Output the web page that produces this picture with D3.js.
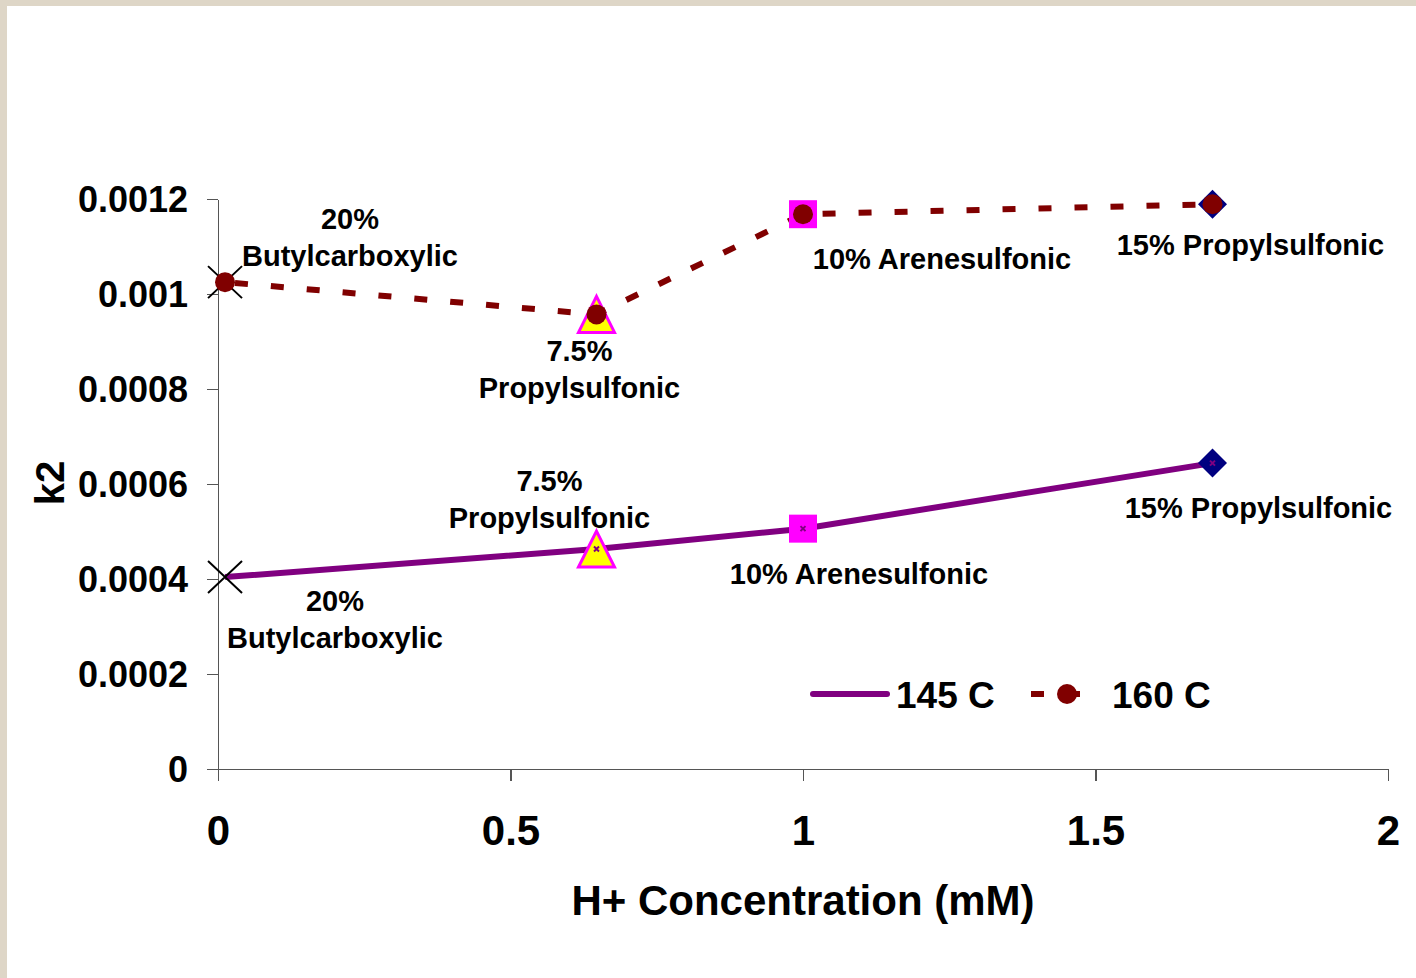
<!DOCTYPE html>
<html>
<head>
<meta charset="utf-8">
<script src="https://cdn.jsdelivr.net/npm/d3@7"></script>
<style>
  body { margin: 0; background: #ded6c7; }
  text { font-family: "Liberation Sans", Arial, sans-serif; font-weight: bold; fill: #000; }
  .axis path, .axis line { stroke: #555; stroke-width: 1.2; shape-rendering: crispEdges; }
</style>
</head>
<body>
<script>
// chart data
var concentration = [0.012, 0.647, 1.0, 1.7];
var k2at145 = [0.000404, 0.000463, 0.000506, 0.000644];
var k2at160 = [0.001025, 0.000957, 0.001168, 0.001189];
var acidLabels = [
    ["20%", "Butylcarboxylic"],
    ["7.5%", "Propylsulfonic"],
    ["10% Arenesulfonic"],
    ["15% Propylsulfonic"]
];
var markerShapes = ["cross", "triangle", "square", "diamond"];
var xTicks = [0, 0.5, 1, 1.5, 2];
var xTickLabels = ["0", "0.5", "1", "1.5", "2"];
var yTicks = [0, 0.0002, 0.0004, 0.0006, 0.0008, 0.001, 0.0012];
var yTickLabels = ["0", "0.0002", "0.0004", "0.0006", "0.0008", "0.001", "0.0012"];
var seriesNames = ["145 C", "160 C"];

window.onload = function () {
    var w = 1416,
        h = 978;

    var svg = d3.select('body')
        .append('svg')
        .attr('width', w)
        .attr('height', h)
        .style('display', 'block');

    // beige frame, white sheet
    svg.append('rect')
        .attr('x', 0).attr('y', 0)
        .attr('width', w).attr('height', h)
        .style('fill', '#ded6c7');
    svg.append('rect')
        .attr('x', 7).attr('y', 6)
        .attr('width', w - 7).attr('height', h - 6)
        .style('fill', '#fff');

    var x = d3.scaleLinear()
        .domain([0, 2])
        .range([218, 1388]);

    var y = d3.scaleLinear()
        .domain([0, 0.0012])
        .range([769, 199]);

    // axes
    var yAxis = d3.axisLeft(y)
        .tickValues(yTicks)
        .tickSize(11)
        .tickSizeOuter(0)
        .tickPadding(19)
        .tickFormat(function (d, i) { return yTickLabels[i]; });

    var gy = svg.append('g')
        .attr('class', 'axis')
        .attr('transform', 'translate(218,0)')
        .call(yAxis);
    gy.selectAll('text')
        .style('font-size', '36px')
        .attr('dy', '0.35em');

    var xAxis = d3.axisBottom(x)
        .tickValues(xTicks)
        .tickSize(12)
        .tickSizeOuter(0)
        .tickFormat(function (d, i) { return xTickLabels[i]; });

    var gx = svg.append('g')
        .attr('class', 'axis')
        .attr('transform', 'translate(0,769)')
        .call(xAxis);
    gx.selectAll('text')
        .style('font-size', '42px')
        .attr('y', 76)
        .attr('dy', null);

    svg.selectAll('.domain').attr('fill', 'none');

    // axis titles
    svg.append('text')
        .attr('text-anchor', 'middle')
        .attr('transform', 'translate(50,483) rotate(-90)')
        .attr('dy', '0.35em')
        .style('font-size', '40px')
        .text('k2');

    svg.append('text')
        .attr('text-anchor', 'middle')
        .attr('x', 803)
        .attr('y', 900)
        .attr('dy', '0.35em')
        .style('font-size', '42px')
        .text('H+ Concentration (mM)');

    // series lines
    var pts145 = concentration.map(function (c, i) { return [c, k2at145[i]]; });
    var pts160 = concentration.map(function (c, i) { return [c, k2at160[i]]; });

    var line = d3.line()
        .x(function (d) { return x(d[0]); })
        .y(function (d) { return y(d[1]); });

    svg.append('path')
        .datum(pts145)
        .attr('d', line)
        .style('fill', 'none')
        .style('stroke', '#800080')
        .style('stroke-width', 6);

    svg.append('path')
        .datum(pts160)
        .attr('d', line)
        .style('fill', 'none')
        .style('stroke', '#800000')
        .style('stroke-width', 6)
        .style('stroke-dasharray', '13,23')
        .style('stroke-dashoffset', '-10');

    // acid markers (shape per acid)
    function drawMarker(g, shape, cx, cy) {
        if (shape === 'cross') {
            g.append('path')
                .attr('d', 'M' + (cx - 17) + ',' + (cy - 16) + 'L' + (cx + 17) + ',' + (cy + 16) +
                    'M' + (cx - 17) + ',' + (cy + 16) + 'L' + (cx + 17) + ',' + (cy - 16))
                .style('stroke', '#000')
                .style('stroke-width', 2);
        } else if (shape === 'triangle') {
            g.append('path')
                .attr('d', 'M' + cx + ',' + (cy - 18) + 'L' + (cx + 18) + ',' + (cy + 18) +
                    'L' + (cx - 18) + ',' + (cy + 18) + 'Z')
                .style('fill', '#ffff00')
                .style('stroke', '#ff00ff')
                .style('stroke-width', 3);
        } else if (shape === 'square') {
            g.append('rect')
                .attr('x', cx - 14).attr('y', cy - 14)
                .attr('width', 28).attr('height', 28)
                .style('fill', '#ff00ff');
        } else if (shape === 'diamond') {
            g.append('path')
                .attr('d', 'M' + cx + ',' + (cy - 14.5) + 'L' + (cx + 14.5) + ',' + cy +
                    'L' + cx + ',' + (cy + 14.5) + 'L' + (cx - 14.5) + ',' + cy + 'Z')
                .style('fill', '#000080');
        }
    }

    var markers = svg.append('g').attr('class', 'markers');

    pts145.forEach(function (d, i) {
        var cx = x(d[0]), cy = y(d[1]);
        drawMarker(markers, markerShapes[i], cx, cy);
        if (i > 0) {
            markers.append('path')
                .attr('d', 'M' + (cx - 2.5) + ',' + (cy - 2.5) + 'L' + (cx + 2.5) + ',' + (cy + 2.5) +
                    'M' + (cx - 2.5) + ',' + (cy + 2.5) + 'L' + (cx + 2.5) + ',' + (cy - 2.5))
                .style('stroke', '#800080')
                .style('stroke-width', 2);
        }
    });

    pts160.forEach(function (d, i) {
        var cx = x(d[0]), cy = y(d[1]);
        drawMarker(markers, markerShapes[i], cx, cy);
        markers.append('circle')
            .attr('cx', cx).attr('cy', cy)
            .attr('r', 10)
            .style('fill', '#800000');
    });

    // point labels, offset from the point
    var offsets145 = [[110, 24], [-47, -68], [56, 45], [46, 45]];
    var offsets160 = [[125, -63], [-17, 36], [139, 45], [38, 41]];

    function addLabels(pts, offsets) {
        pts.forEach(function (d, i) {
            var t = svg.append('text')
                .attr('text-anchor', 'middle')
                .attr('x', x(d[0]) + offsets[i][0])
                .attr('y', y(d[1]) + offsets[i][1])
                .style('font-size', '29px');
            acidLabels[i].forEach(function (s, j) {
                t.append('tspan')
                    .attr('x', x(d[0]) + offsets[i][0])
                    .attr('dy', j === 0 ? '0.35em' : 37)
                    .text(s);
            });
        });
    }
    addLabels(pts145, offsets145);
    addLabels(pts160, offsets160);

    // legend
    var legend = svg.append('g').attr('class', 'legend');
    legend.append('line')
        .attr('x1', 813).attr('x2', 887)
        .attr('y1', 694).attr('y2', 694)
        .style('stroke', '#800080')
        .style('stroke-width', 6)
        .style('stroke-linecap', 'round');
    legend.append('text')
        .attr('x', 896).attr('y', 695)
        .attr('dy', '0.35em')
        .style('font-size', '37px')
        .text(seriesNames[0]);

    legend.append('line')
        .attr('x1', 1031).attr('x2', 1103)
        .attr('y1', 694).attr('y2', 694)
        .style('stroke', '#800000')
        .style('stroke-width', 6)
        .style('stroke-dasharray', '13,23');
    legend.append('circle')
        .attr('cx', 1067).attr('cy', 694)
        .attr('r', 10)
        .style('fill', '#800000');
    legend.append('text')
        .attr('x', 1112).attr('y', 695)
        .attr('dy', '0.35em')
        .style('font-size', '37px')
        .text(seriesNames[1]);
};
</script>
</body>
</html>
